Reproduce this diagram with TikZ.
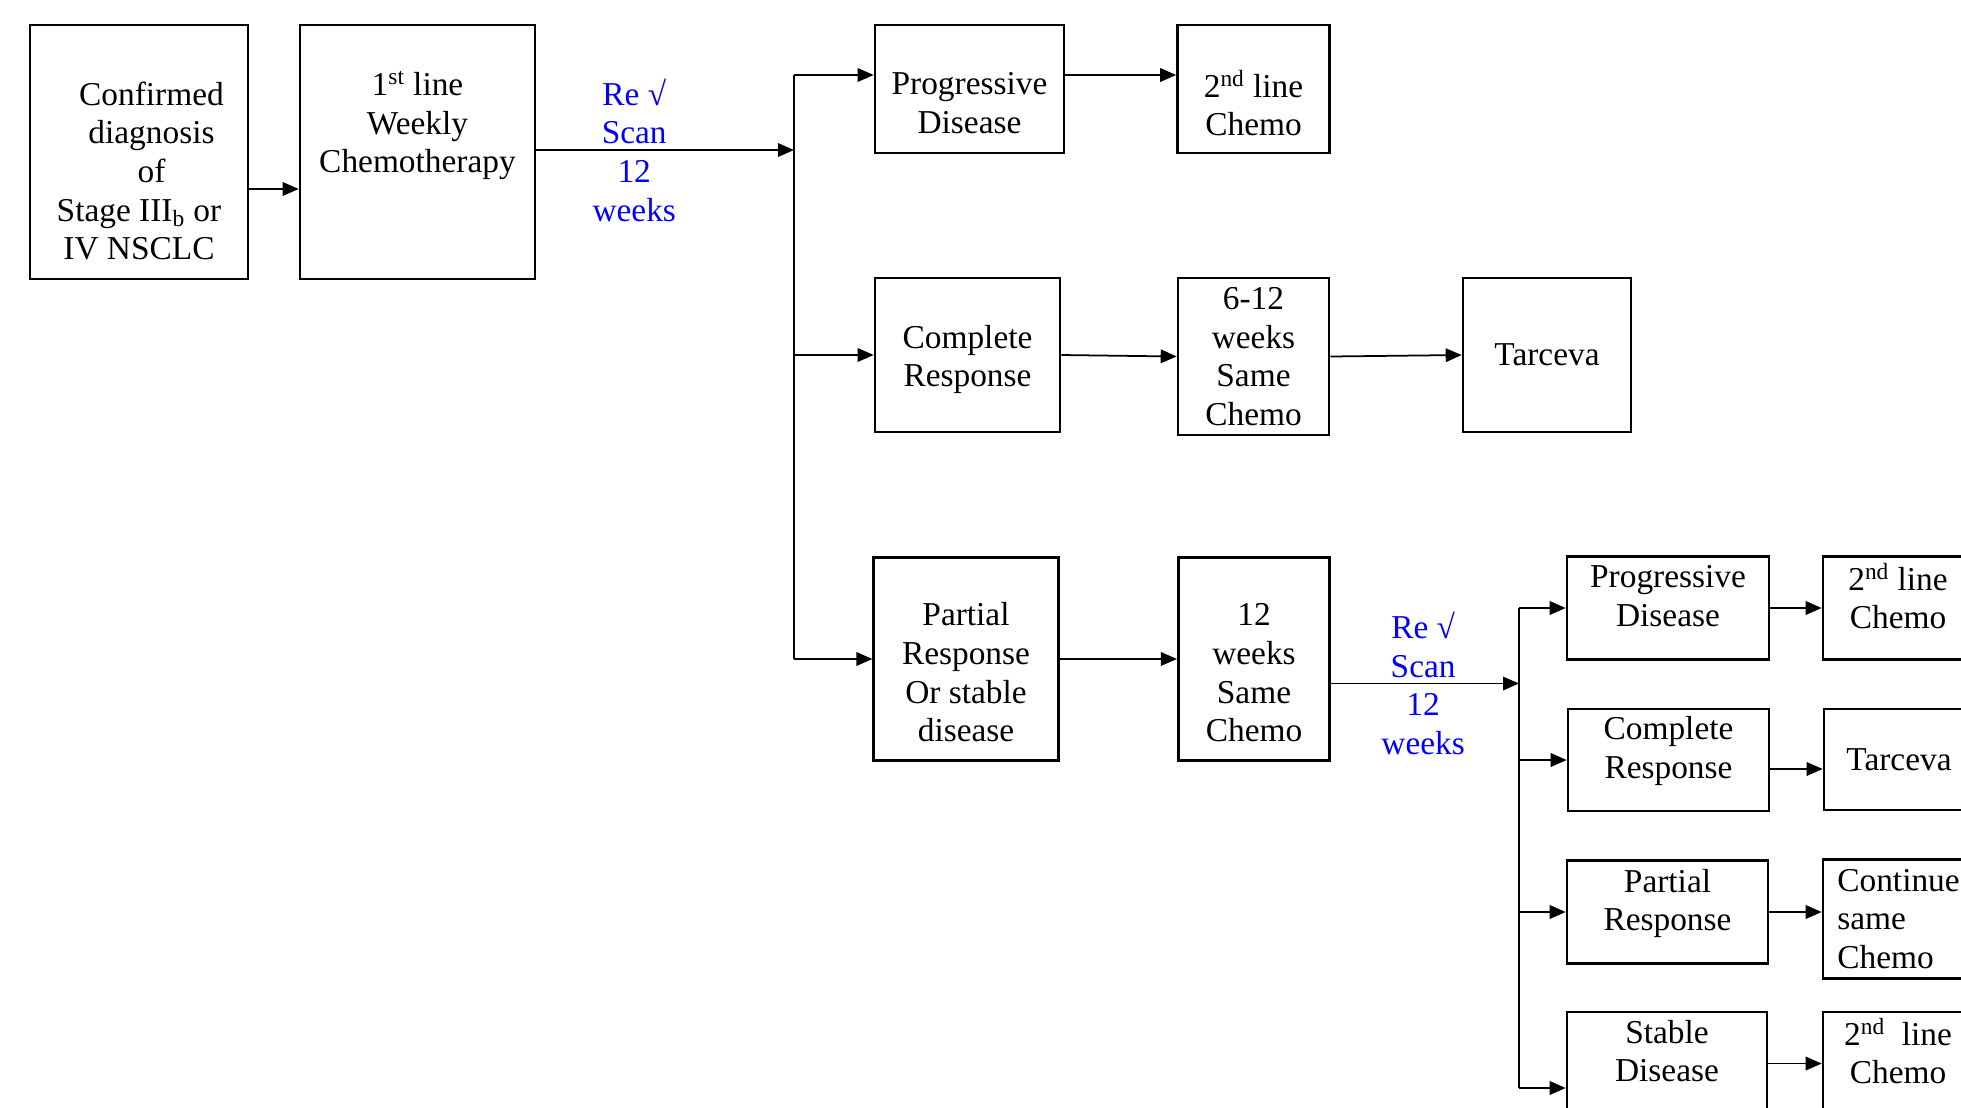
\documentclass[tikz,border=0pt]{standalone}
\usepackage{fontspec}
\setmainfont{Liberation Serif}
\usetikzlibrary{arrows.meta, positioning}

\tikzset{flowBox/.style={draw, line width=1.5pt, inner sep=0pt}}
\tikzset{boxText/.style={align=center, anchor=center, font=\fontsize{19}{22}\selectfont}}
\tikzset{scanText/.style={align=center, text=blue, font=\fontsize{19}{22}\selectfont}}
\tikzset{flowArrow/.style={line width=1pt, -{Triangle[length=0.32cm, width=0.27cm]}}}

\begin{document}
\begin{tikzpicture}[x=0.02cm, y=-0.02cm]

\useasboundingbox (0,0) rectangle (1961,1107);

% diagnosis and first line
\node[flowBox, minimum width=4.36cm, minimum height=5.08cm,
  label={[boxText, yshift=-0.38cm]center:{\hspace*{0.5cm}Confirmed\\ \hspace*{0.5cm}diagnosis\\ \hspace*{0.5cm}of\\ Stage III\textsubscript{b} or\\ IV NSCLC}}] (diag) at (139,152) {};
\node[flowBox, minimum width=4.70cm, minimum height=5.08cm,
  label={[boxText, yshift=0.53cm]center:{1\textsuperscript{st} line\\ Weekly\\ Chemotherapy}}] (firstLine) at (417.5,152) {};

% first scan outcomes
\node[flowBox, minimum width=3.78cm, minimum height=2.56cm,
  label={[boxText, yshift=-0.28cm]center:{Progressive\\ Disease}}] (prog) at (969.5,89) {};
\node[flowBox, minimum width=3.04cm, minimum height=2.56cm,
  label={[boxText, yshift=-0.28cm]center:{2\textsuperscript{nd} line\\ Chemo}}] (secondLine) at (1253.5,89) {};

\node[flowBox, minimum width=3.70cm, minimum height=3.08cm,
  label={[boxText, yshift=-0.09cm]center:{Complete\\ Response}}] (complete) at (967.5,355) {};
\node[flowBox, minimum width=3.02cm, minimum height=3.14cm,
  label={[boxText]center:{6-12\\ weeks\\ Same\\ Chemo}}] (sameChemo) at (1253.5,356.5) {};
\node[flowBox, minimum width=3.36cm, minimum height=3.08cm,
  label={[boxText]center:{Tarceva}}] (tarceva) at (1547,355) {};

\node[flowBox, minimum width=3.69cm, minimum height=4.07cm,
  label={[boxText, yshift=-0.27cm]center:{Partial\\ Response\\ Or stable\\ disease}}] (partial) at (966,659) {};
\node[flowBox, minimum width=3.03cm, minimum height=4.07cm,
  label={[boxText, yshift=-0.28cm]center:{12\\ weeks\\ Same\\ Chemo}}] (twelveWeeks) at (1254,659) {};

% second scan outcomes
\node[flowBox, minimum width=4.04cm, minimum height=2.06cm,
  label={[boxText, yshift=0.24cm]center:{Progressive\\ Disease}}] (progB) at (1668,608) {};
\node[flowBox, minimum width=3.0cm, minimum height=2.06cm,
  label={[boxText, yshift=0.24cm]center:{2\textsuperscript{nd} line\\ Chemo}}] (secondLineB) at (1898,608) {};

\node[flowBox, minimum width=4.02cm, minimum height=2.04cm,
  label={[boxText, yshift=0.18cm]center:{Complete\\ Response}}] (completeB) at (1668.5,760) {};
\node[flowBox, minimum width=3.0cm, minimum height=2.02cm,
  label={[boxText]center:{Tarceva}}] (tarcevaB) at (1899,759.5) {};

\node[flowBox, minimum width=4.02cm, minimum height=2.07cm,
  label={[boxText, yshift=0.17cm]center:{Partial\\ Response}}] (partialB) at (1667.5,912) {};
\node[flowBox, minimum width=3.2cm, minimum height=2.37cm,
  label={[boxText, align=left, xshift=-0.09cm]center:{Continue\\ same\\ Chemo}}] (continueB) at (1903,919) {};

\node[flowBox, minimum width=4.0cm, minimum height=2.06cm,
  label={[boxText, yshift=0.25cm]center:{Stable\\ Disease}}] (stableB) at (1667,1063.5) {};
\node[flowBox, minimum width=3.0cm, minimum height=2.06cm,
  label={[boxText, yshift=0.25cm]center:{2\textsuperscript{nd}~ line\\ Chemo}}] (secondLineC) at (1898,1063.5) {};

% forks
\coordinate (fork1) at (794,150);
\coordinate (fork2) at (1519,683);
\coordinate (progIn) at ([yshift=0.28cm]prog.west);
\coordinate (twelveOut) at ([yshift=-0.49cm]twelveWeeks.east);
\coordinate (stableIn) at ([yshift=-0.49cm]stableB.west);

\draw[flowArrow] ([yshift=-0.74cm]diag.east) -- ([yshift=-0.74cm]firstLine.west);
\draw[flowArrow] (firstLine.east |- fork1) -- (fork1)
  node[scanText, pos=0.38] {Re √\\ Scan\\ 12\\ weeks};
\draw[line width=1pt] (progIn -| fork1) -- (partial.west -| fork1);
\foreach \t in {progIn, complete.west, partial.west}
  \draw[flowArrow] (\t -| fork1) -- (\t);

\draw[flowArrow] ([yshift=0.28cm]prog.east) -- ([yshift=0.28cm]secondLine.west);
\draw[flowArrow] (complete.east) -- (sameChemo.west);
\draw[flowArrow] (sameChemo.east) -- (tarceva.west);
\draw[flowArrow] (partial.east) -- (twelveWeeks.west);

\draw[flowArrow] (twelveOut) -- (twelveOut -| fork2)
  node[scanText, pos=0.49] {Re √\\ Scan\\ 12\\ weeks};
\draw[line width=1pt] (progB.west -| fork2) -- (stableIn -| fork2);
\foreach \t in {progB.west, completeB.west, partialB.west, stableIn}
  \draw[flowArrow] (\t -| fork2) -- (\t);

\draw[flowArrow] (progB.east) -- (secondLineB.west);
\draw[flowArrow] ([yshift=-0.18cm]completeB.east) -- ([yshift=-0.18cm]completeB.east -| tarcevaB.west);
\draw[flowArrow] (partialB.east) -- (partialB.east -| continueB.west);
\draw[flowArrow] (stableB.east) -- (stableB.east -| secondLineC.west);

\end{tikzpicture}
\end{document}
